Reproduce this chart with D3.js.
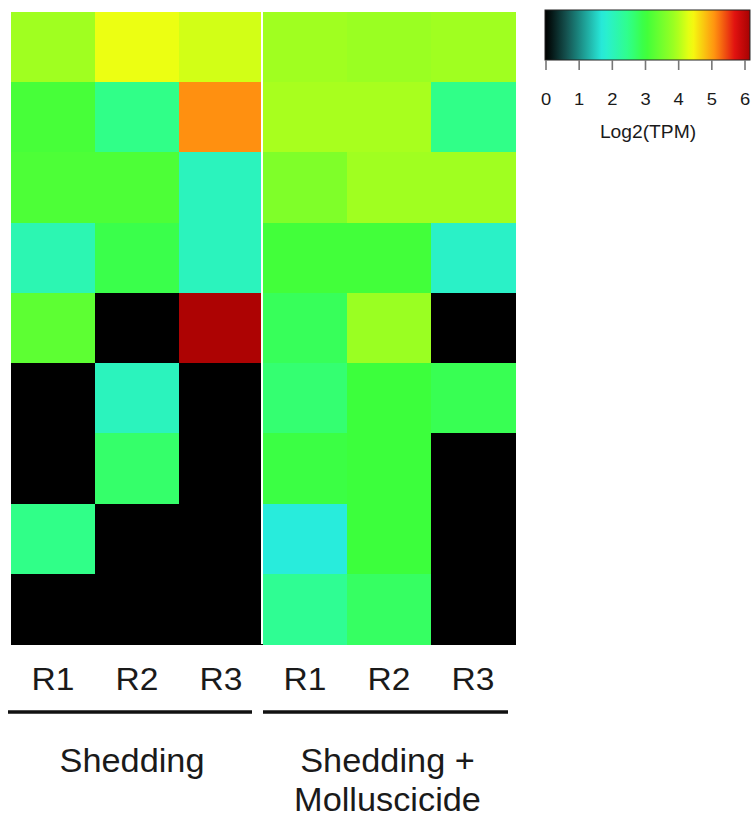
<!DOCTYPE html>
<html>
<head>
<meta charset="utf-8">
<script src="https://cdn.jsdelivr.net/npm/d3@7/dist/d3.min.js"></script>
<style>
  html, body { margin: 0; padding: 0; background: #ffffff; }
  svg { display: block; }
  text { font-family: "Liberation Sans", Arial, Helvetica, sans-serif; fill: #1a1a1a; }
</style>
</head>
<body>
<svg id="chart" width="754" height="823"></svg>
<script>
// Replicates (columns) and their groups
const replicates = ["R1", "R2", "R3", "R1", "R2", "R3"];
const groupNames = [["Shedding"], ["Shedding +", "Molluscicide"]];
const groupOfColumn = [0, 0, 0, 1, 1, 1];

// Log2(TPM) per gene (rows, top to bottom); 0 = not detected
const gene1 = [3.9, 4.35, 4.2, 3.9, 3.85, 3.9];
const gene2 = [3.1, 2.5, 5.1, 3.95, 3.95, 2.5];
const gene3 = [3.15, 3.15, 2.0, 3.6, 3.9, 3.9];
const gene4 = [2.1, 2.9, 2.0, 3.05, 3.05, 1.9];
const gene5 = [3.3, 0, 6.1, 2.8, 3.85, 0];
const gene6 = [0, 2.0, 0, 2.65, 3.0, 2.85];
const gene7 = [0, 2.7, 0, 2.95, 3.0, 0];
const gene8 = [2.5, 0, 0, 1.7, 3.0, 0];
const gene9 = [0, 0, 0, 2.4, 2.75, 0];
const rows = [gene1, gene2, gene3, gene4, gene5, gene6, gene7, gene8, gene9];

// Colour bar ticks
const legendTicks = [0, 1, 2, 3, 4, 5, 6];
const legendTitle = "Log2(TPM)";

// Palette: black -> teal -> cyan -> green -> yellow -> orange -> red
const paletteStops = [0, 0.6, 1.7, 2.5, 3.0, 3.9, 4.4, 5.1, 5.7, 6.2];
const paletteColors = ["#000000", "#14504e", "#28ecdc", "#30ff88", "#3cff3c",
                       "#a0ff20", "#f4ff10", "#ff9010", "#e01010", "#a00000"];
const color = d3.scaleLinear().domain(paletteStops).range(paletteColors).clamp(true);

const svg = d3.select("#chart");

// ---- heatmap ----
const x = d3.scaleBand().domain(d3.range(replicates.length)).range([11, 515]).padding(0);
const y = d3.scaleBand().domain(d3.range(rows.length)).range([12, 644]).padding(0);

const cells = [];
rows.forEach((r, i) => r.forEach((v, j) => cells.push({ i, j, v })));

svg.append("g").selectAll("rect")
  .data(cells)
  .join("rect")
  .attr("x", d => x(d.j))
  .attr("y", d => y(d.i))
  .attr("width", x.bandwidth() + 0.5)
  .attr("height", y.bandwidth() + 0.5)
  .attr("fill", d => color(d.v))
  .attr("shape-rendering", "crispEdges");

// thin white separator between the two treatment groups
svg.append("rect")
  .attr("x", x(3) - 2)
  .attr("y", y(0))
  .attr("width", 2)
  .attr("height", y.range()[1] - y(0))
  .attr("fill", "#ffffff");

// helper for slightly widened labels
function label(g, txt, cx, by, size, sx) {
  return g.append("text")
    .attr("transform", `translate(${cx},${by}) scale(${sx},1)`)
    .attr("text-anchor", "middle")
    .attr("font-size", size)
    .text(txt);
}

// column labels
const colG = svg.append("g");
replicates.forEach((r, j) => label(colG, r, x(j) + x.bandwidth() / 2, 690, 32, 1.05));

// group brackets and names
const grpG = svg.append("g");
d3.range(groupNames.length).forEach(g => {
  const cols = groupOfColumn.map((gg, j) => gg === g ? j : -1).filter(j => j >= 0);
  const x0 = x(cols[0]);
  const x1 = x(cols[cols.length - 1]) + x.bandwidth();
  const lx0 = g === 0 ? x0 - 3 : x0;
  const lx1 = g === 0 ? x1 - 11 : x1 - 7;
  grpG.append("line")
    .attr("x1", lx0).attr("x2", lx1)
    .attr("y1", 712).attr("y2", 712)
    .attr("stroke", "#111").attr("stroke-width", 3.5);
  const cx = (lx0 + lx1) / 2 + 2;
  groupNames[g].forEach((t, k) => label(grpG, t, cx, 772 + k * 39, 33, 1.04));
});

// ---- colour legend ----
const lx = d3.scaleLinear().domain([0, 6]).range([546, 745]);
const barMin = -0.03, barMax = 6.15;
const defs = svg.append("defs");
const grad = defs.append("linearGradient").attr("id", "lg")
  .attr("x1", "0%").attr("x2", "100%").attr("y1", "0%").attr("y2", "0%");
d3.range(0, 41).forEach(k => {
  const v = barMin + (barMax - barMin) * k / 40;
  grad.append("stop").attr("offset", `${k * 2.5}%`).attr("stop-color", color(v));
});
svg.append("rect")
  .attr("x", lx(barMin)).attr("y", 10)
  .attr("width", lx(barMax) - lx(barMin)).attr("height", 50)
  .attr("fill", "url(#lg)")
  .attr("stroke", "#222").attr("stroke-width", 1);

const legG = svg.append("g");
legendTicks.forEach(t => {
  legG.append("line")
    .attr("x1", lx(t)).attr("x2", lx(t))
    .attr("y1", 60).attr("y2", 70)
    .attr("stroke", "#777").attr("stroke-width", 1.6);
  label(legG, String(t), lx(t), 105, 17, 1.08);
});
label(legG, legendTitle, 648, 138, 17.5, 1.1);
</script>
</body>
</html>
